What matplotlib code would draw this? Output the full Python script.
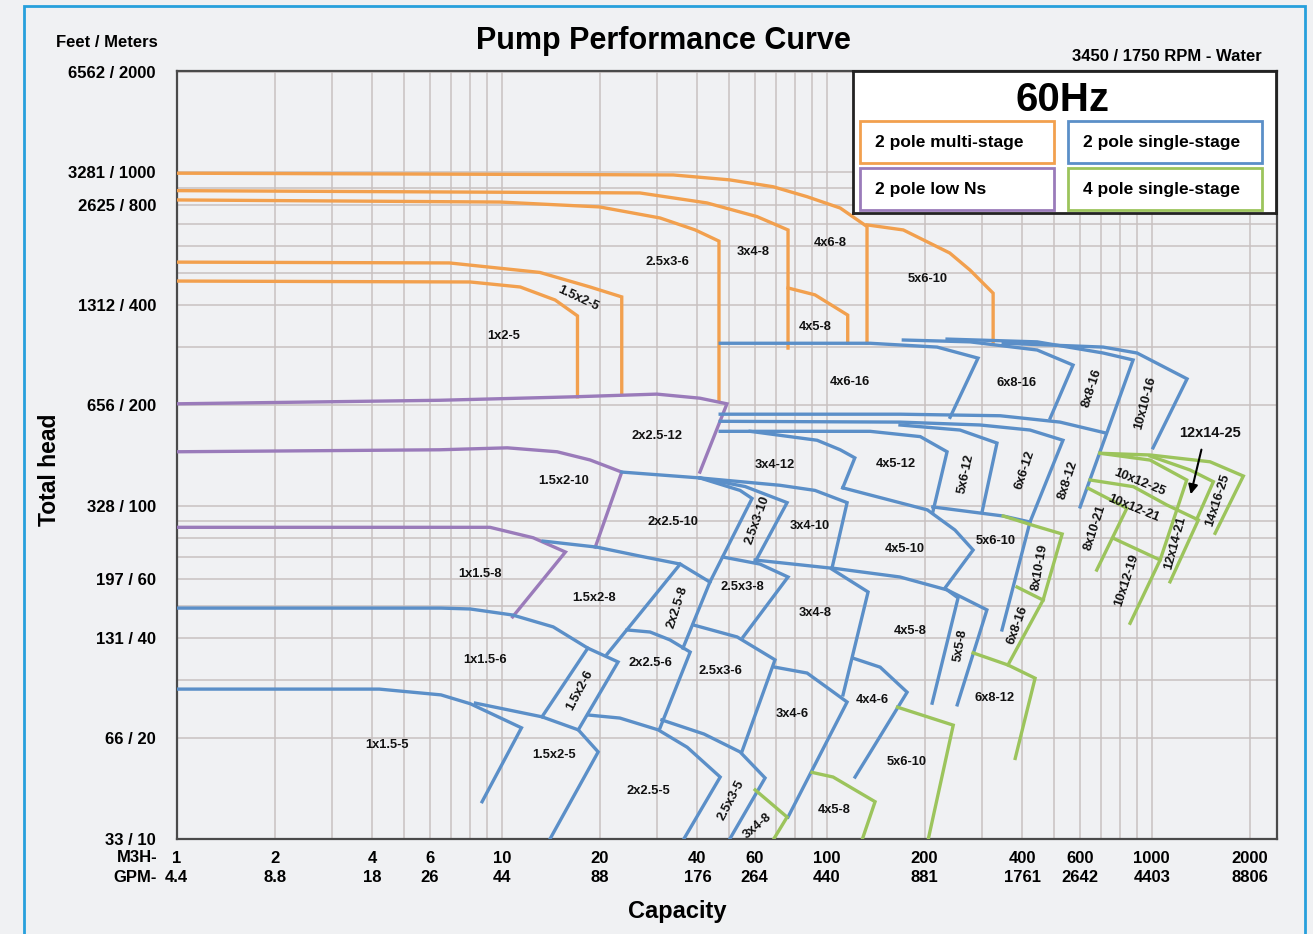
import numpy as np
import matplotlib.pyplot as plt
from matplotlib.patches import Rectangle
from matplotlib.ticker import LogLocator, FixedLocator, NullFormatter

plt.rcParams['font.family'] = ['Liberation Sans', 'DejaVu Sans']
plt.rcParams['font.weight'] = 'bold'

# ---- data: (capacity m3/h, head m) ----
# 2 pole multi-stage
ms_1x2_5 = ([1, 8.0, 11.4, 14.6, 17.1, 17.1], [472, 469, 453, 414, 371, 212])
ms_15x2_5 = ([1, 6.9, 13.1, 18.7, 23.4, 23.4], [538, 535, 501, 453, 423, 218])
ms_25x3_6 = ([1, 9.9, 20.0, 30.7, 39.4, 46.6, 46.6], [827, 815, 788, 730, 672, 622, 207])
ms_3x4_8 = ([1, 26.6, 42.8, 61, 76, 76], [882, 868, 810, 737, 672, 297])
ms_4x6_8 = ([1, 33.7, 50.3, 68.4, 86.9, 110, 133, 133], [995, 983, 950, 906, 846, 782, 688, 307])
ms_4x5_8 = ([76, 92, 116, 116], [450, 429, 373, 307])
ms_5x6_10 = ([133, 172, 239, 276, 325, 325], [696, 672, 573, 509, 434, 309])
multi_stage = [ms_1x2_5, ms_15x2_5, ms_25x3_6, ms_3x4_8, ms_4x6_8, ms_4x5_8, ms_5x6_10]

# 2 pole low Ns
ln_2x25_12 = ([1, 6.45, 16.6, 30.0, 40.7, 49.3, 40.7], [202, 207, 212, 216, 210, 202, 126])
ln_15x2_10 = ([1, 6.45, 10.4, 14.8, 18.7, 23.4, 19.4], [145, 147, 149, 145, 137, 126, 75])
ln_1x15_8 = ([1, 9.2, 12.5, 15.7, 10.8], [86, 86, 80, 72.5, 46.3])
low_ns = [ln_2x25_12, ln_15x2_10, ln_1x15_8]

# 2 pole single-stage
ss_1x15_5 = ([1, 4.2, 6.5, 8.0, 11.5, 8.7], [28.1, 28.1, 27.0, 25.4, 21.5, 12.9])
ss_15x2_5 = ([8.3, 13.3, 17.2, 19.8, 14.1], [25.5, 23.2, 21.2, 18.2, 10])
ss_1x15_6 = ([1, 6.5, 8.0, 10.8, 14.4, 18.4, 22.8, 17.2], [49.2, 49.2, 48.9, 46.9, 43.2, 37.3, 33.9, 21.2])
ss_15x2_6 = ([18.4, 13.3], [37.3, 23.2])
ss_15x2_8 = ([13.4, 19.6, 26.6, 35.4, 43.7], [78.2, 75.0, 70.5, 66.7, 58.9])
ss_15x2_8e = ([35.4, 21.1], [66.7, 35.8])
ss_2x25_8e = ([43.7, 36.1], [58.9, 37.3])
ss_2x25_6 = ([24.3, 28.6, 32.9, 38.0, 30.7], [42.3, 41.7, 39.5, 36.3, 21.5])
ss_25x3_6 = ([38.8, 53.0, 69.3, 54.9], [43.8, 40.3, 34.4, 18.3])
ss_2x25_5 = ([18.4, 23.1, 30.3, 37.2, 47.0, 36.4], [23.5, 23.0, 21.2, 18.8, 15.3, 10.0])
ss_25x3_5 = ([31.1, 41.9, 54.1, 64.6, 50.4], [22.7, 20.6, 18.2, 15.2, 10.0])
ss_3x4_6 = ([69.3, 87.0, 115.5, 76.0], [32.7, 31.4, 25.7, 11.6])
ss_4x4_6 = ([120.5, 146, 176.7, 135.9, 122.2], [34.8, 32.7, 27.5, 18.1, 15.3])
ss_2x25_10 = ([23.4, 40.7, 54.1, 58.9, 43.7], [126, 121, 111, 105, 58.9])
ss_25x3_10 = ([40.7, 56.1, 75.5, 60.2], [121, 114, 102, 67.7])
ss_3x4_10 = ([40.7, 71.8, 92.0, 115.5, 103.8], [121, 115, 111, 102, 64.9])
ss_4x5_10 = ([112, 204, 248, 282, 231], [113, 97.0, 84.4, 73.5, 56.5])
ss_25x3_8 = ([48.0, 62.3, 76.0, 55.3], [70.0, 66.7, 61.0, 40.3])
ss_3x4_8 = ([60.2, 102.4, 134, 112.2], [68.6, 64.9, 55.0, 27.0])
ss_4x5_8 = ([103.8, 168, 234.5, 253.5, 211], [64.9, 61.0, 55.8, 52.8, 25.5])
ss_5x5_8 = ([234.5, 311, 252], [55.8, 48.6, 25.2])
ss_3x4_12 = ([58.1, 93.4, 110, 122, 112], [167, 157, 147, 139, 113])
ss_4x5_12 = ([47.0, 136, 194, 234.5, 212], [167, 167, 161, 145, 95.6])
ss_5x6_12 = ([168, 257, 334, 300.5], [174.5, 168.5, 154, 95.6])
ss_6x6_12 = ([47.0, 168, 296, 422, 533, 422, 346], [179, 178, 174.5, 168.5, 157, 89.2, 42.3])
ss_8x8_12 = ([47.0, 168, 341.5, 522, 723], [188, 188, 186, 178, 165])
ss_4x6_16 = ([47.0, 136, 218.5, 292, 239.6], [307, 307, 299, 277, 184])
ss_6x8_16 = ([172, 276, 444, 572.5, 487], [314, 310, 293, 264, 183])
ss_8x8_16 = ([234.5, 444, 709, 876, 602], [316, 310, 287, 273.5, 99.0])
ss_10x10_16 = ([349, 709, 901, 1284, 1009], [307, 299, 287, 240, 149])
ss_5x6_10 = ([212, 349, 422], [99.0, 93.0, 89.2])
single_stage = [ss_1x15_5, ss_15x2_5, ss_1x15_6, ss_15x2_6, ss_15x2_8, ss_15x2_8e,
                ss_2x25_8e, ss_2x25_6, ss_25x3_6, ss_2x25_5, ss_25x3_5, ss_3x4_6,
                ss_4x4_6, ss_2x25_10, ss_25x3_10, ss_3x4_10, ss_4x5_10, ss_25x3_8,
                ss_3x4_8, ss_4x5_8, ss_5x5_8, ss_3x4_12, ss_4x5_12, ss_5x6_12,
                ss_6x6_12, ss_8x8_12, ss_4x6_16, ss_6x8_16, ss_8x8_16, ss_10x10_16,
                ss_5x6_10]

# 4 pole single-stage
fp_3x4_8 = ([60.2, 75.5, 68.4], [14.0, 11.6, 9.9])
fp_4x5_8 = ([90.1, 104.6, 140.8, 128.4], [15.8, 15.3, 12.9, 9.9])
fp_5x6_10 = ([165, 245, 205], [24.8, 21.9, 9.9])
fp_6x8_12 = ([282, 361, 437.5, 380], [36.1, 33.2, 30.3, 17.4])
fp_6x8_16 = ([385, 463, 361], [56.9, 52.0, 33.2])
fp_8x10_19 = ([349, 437.5, 530, 463], [93.0, 86.8, 82.1, 52.0])
fp_14x16_25 = ([693, 988, 1511, 1913, 1566], [143.5, 141.8, 135.3, 122.6, 82.5])
fp_12x14_25 = ([988, 1312, 1547, 1375], [140.8, 127.8, 117.9, 90.9])
fp_10x12_25 = ([693, 988, 1281, 1061, 857.5], [143.5, 136.9, 119.3, 68.6, 44.3])
fp_12x14_21 = ([646, 878, 1112, 1391, 1138], [119.3, 113.9, 100.4, 90.5, 59.0])
fp_8x10_21 = ([638, 838, 677], [112.6, 98.1, 64.0])
fp_10x12_19 = ([762, 1061], [79.7, 68.6])
four_pole = [fp_3x4_8, fp_4x5_8, fp_5x6_10, fp_6x8_12, fp_6x8_16, fp_8x10_19,
             fp_14x16_25, fp_12x14_25, fp_10x12_25, fp_12x14_21, fp_8x10_21, fp_10x12_19]

# axis ticks
cap_m3h = [1, 2, 4, 6, 10, 20, 40, 60, 100, 200, 400, 600, 1000, 2000]
cap_gpm = ['4.4', '8.8', '18', '26', '44', '88', '176', '264', '440', '881', '1761', '2642', '4403', '8806']
head_m = [10, 20, 40, 60, 100, 200, 400, 800, 1000, 2000]
head_ft = [33, 66, 131, 197, 328, 656, 1312, 2625, 3281, 6562]

# region labels: (text, x frac, y frac, rotation)
region_labels = [
    ("1x2-5", 0.2976, 0.6547, 0), ("1.5x2-5", 0.3648, 0.7042, -25), ("2.5x3-6", 0.4457, 0.7511, 0),
    ("3x4-8", 0.5239, 0.7642, 0), ("4x6-8", 0.5939, 0.7759, 0), ("5x6-10", 0.6830, 0.7290, 0),
    ("4x5-8", 0.5803, 0.6665, 0), ("2x2.5-12", 0.4366, 0.5244, 0), ("1.5x2-10", 0.3521, 0.4658, 0),
    ("1x1.5-8", 0.2757, 0.3446, 0), ("4x6-16", 0.6121, 0.5948, 0), ("6x8-16", 0.7639, 0.5935, 0),
    ("8x8-16", 0.8321, 0.5870, 72), ("10x10-16", 0.8803, 0.5674, 75), ("3x4-12", 0.5439, 0.4866, 0),
    ("4x5-12", 0.6539, 0.4879, 0), ("5x6-12", 0.7175, 0.4749, 78), ("6x6-12", 0.7712, 0.4801, 72),
    ("8x8-12", 0.8103, 0.4671, 72), ("2x2.5-10", 0.4512, 0.4124, 0), ("2.5x3-10", 0.5275, 0.4150, 70),
    ("3x4-10", 0.5757, 0.4072, 0), ("4x5-10", 0.6621, 0.3772, 0), ("5x6-10", 0.7448, 0.3876, 0),
    ("1.5x2-8", 0.3794, 0.3134, 0), ("2x2.5-8", 0.4548, 0.3016, 72), ("2.5x3-8", 0.5139, 0.3277, 0),
    ("3x4-8", 0.5803, 0.2938, 0), ("4x5-8", 0.6667, 0.2704, 0), ("5x5-8", 0.7121, 0.2521, 80),
    ("1x1.5-6", 0.2803, 0.2326, 0), ("1.5x2-6", 0.3666, 0.1935, 62), ("2x2.5-6", 0.4303, 0.2287, 0),
    ("2.5x3-6", 0.4939, 0.2182, 0), ("3x4-6", 0.5594, 0.1622, 0), ("4x4-6", 0.6321, 0.1805, 0),
    ("1x1.5-5", 0.1912, 0.1218, 0), ("1.5x2-5", 0.3430, 0.1088, 0), ("2x2.5-5", 0.4285, 0.0619, 0),
    ("2.5x3-5", 0.5039, 0.0502, 62), ("3x4-8", 0.5276, 0.0163, 40), ("4x5-8", 0.5976, 0.0371, 0),
    ("5x6-10", 0.6639, 0.0997, 0), ("6x8-12", 0.7439, 0.1831, 0), ("6x8-16", 0.7648, 0.2782, 70),
    ("8x10-19", 0.7848, 0.3537, 80), ("8x10-21", 0.8348, 0.4046, 72), ("10x12-25", 0.8757, 0.4645, -22),
    ("10x12-21", 0.8694, 0.4306, -22), ("12x14-21", 0.9076, 0.3850, 75), ("10x12-19", 0.8639, 0.3368, 72),
    ("14x16-25", 0.9466, 0.4410, 72),
]

ORANGE = '#f2a04e'
PURPLE = '#9a7bba'
BLUE = '#5b8fc8'
GREEN = '#9cc45c'
BG = '#f0f1f3'

fig = plt.figure(figsize=(13.13, 9.34), dpi=100, facecolor=BG)
ax = fig.add_axes([0.1346, 0.1022, 0.8378, 0.8218], facecolor=BG)
ax.set_xscale('log')
ax.set_yscale('log')
ax.set_xlim(1, 2424)
ax.set_ylim(10, 2017)

for group, col in [(multi_stage, ORANGE), (low_ns, PURPLE), (single_stage, BLUE), (four_pole, GREEN)]:
    for q, h in group:
        ax.plot(q, h, color=col, lw=2.4, solid_joinstyle='miter', zorder=3)

ax.xaxis.set_major_locator(FixedLocator(cap_m3h))
ax.set_xticklabels([f"{m}\n{g}" for m, g in zip(cap_m3h, cap_gpm)], fontsize=12, fontweight='bold',
                   linespacing=1.3)
ax.xaxis.set_minor_locator(LogLocator(base=10, subs=np.arange(2, 10)))
ax.xaxis.set_minor_formatter(NullFormatter())
ax.yaxis.set_major_locator(FixedLocator(head_m))
ax.set_yticklabels([f"{f} / {m}" for f, m in zip(head_ft, head_m)], fontsize=12, fontweight='bold')
ax.yaxis.set_minor_locator(LogLocator(base=10, subs=np.arange(2, 10)))
ax.yaxis.set_minor_formatter(NullFormatter())
ax.tick_params(which='both', length=0)
ax.tick_params(axis='x', pad=9)
ax.tick_params(axis='y', pad=15)
ax.grid(which='both', color='#c8c1c1', lw=1.1, zorder=1)
ax.set_axisbelow(True)
for s in ax.spines.values():
    s.set_color('#4a4a4a')
    s.set_linewidth(1.6)

for txt, fx, fy, rot in region_labels:
    ax.text(fx, fy, txt, transform=ax.transAxes, ha='center', va='center', rotation=rot,
            rotation_mode='anchor', fontsize=9.3, fontweight='bold', color='#111111', zorder=5)

ax.text(0.9394, 0.5283, "12x14-25", transform=ax.transAxes, ha='center', va='center',
        fontsize=10.5, fontweight='bold', color='#111111', zorder=5)
ax.annotate('', xy=(0.9212, 0.4450), xytext=(0.9321, 0.5102), xycoords='axes fraction',
            arrowprops=dict(arrowstyle='-|>', color='black', lw=1.5, mutation_scale=14), zorder=5)

# titles and axis captions
fig.text(0.505, 0.956, "Pump Performance Curve", ha='center', va='center', fontsize=22, fontweight='bold')
fig.text(0.1203, 0.954, "Feet / Meters", ha='right', va='center', fontsize=12, fontweight='bold')
fig.text(0.961, 0.940, "3450 / 1750 RPM - Water", ha='right', va='center', fontsize=12, fontweight='bold')
fig.text(0.038, 0.497, "Total head", ha='center', va='center', rotation=90, fontsize=16.5, fontweight='bold')
fig.text(0.5156, 0.0236, "Capacity", ha='center', va='center', fontsize=17, fontweight='bold')
fig.text(0.1196, 0.0824, "M3H-", ha='right', va='center', fontsize=12, fontweight='bold')
fig.text(0.1196, 0.0600, "GPM-", ha='right', va='center', fontsize=12, fontweight='bold')

# legend panel
lg = fig.add_axes([0.6497, 0.7719, 0.3222, 0.1520], facecolor='white', zorder=10)
lg.set_xlim(0, 1)
lg.set_ylim(0, 1)
lg.set_xticks([])
lg.set_yticks([])
for s in lg.spines.values():
    s.set_color('#222222')
    s.set_linewidth(2)
lg.text(0.496, 0.796, "60Hz", ha='center', va='center', fontsize=29, fontweight='bold')
legend_items = [("2 pole multi-stage", ORANGE, 0.0165, 0.352),
                ("2 pole single-stage", BLUE, 0.508, 0.352),
                ("2 pole low Ns", PURPLE, 0.0165, 0.021),
                ("4 pole single-stage", GREEN, 0.508, 0.021)]
for name, col, x0, y0 in legend_items:
    lg.add_patch(Rectangle((x0, y0), 0.459, 0.293, fill=False, ec=col, lw=2))
    lg.text(x0 + 0.035, y0 + 0.145, name, ha='left', va='center', fontsize=12.5, fontweight='bold')

# outer blue frame
fig.add_artist(Rectangle((0.0183, -0.02), 0.9756, 1.0136, transform=fig.transFigure,
                         fill=False, ec='#27a0dc', lw=2))

fig.savefig('out.png', dpi=100, facecolor=BG)
